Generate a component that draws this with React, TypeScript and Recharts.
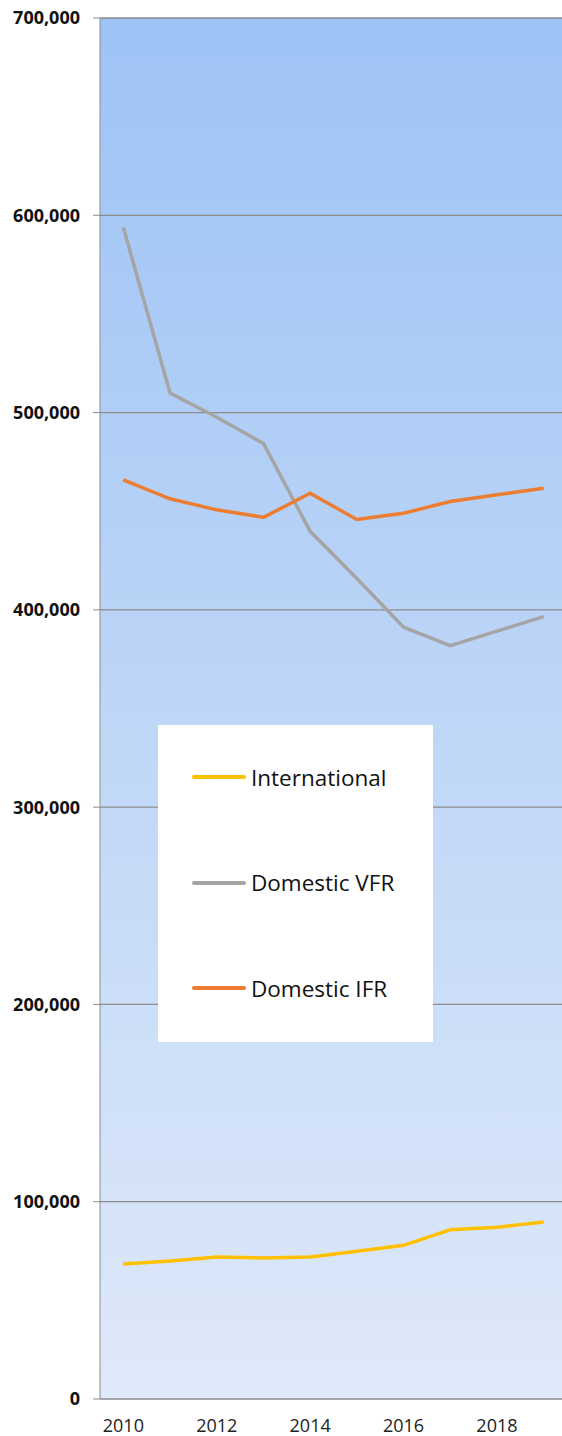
import { CartesianGrid, Legend, Line, LineChart, XAxis, YAxis } from "recharts"

const years = ["2010", "2011", "2012", "2013", "2014", "2015", "2016", "2017", "2018", "2019"]
const international = [68400, 69900, 72000, 71500, 72000, 74900, 77900, 85800, 87000, 89700]
const domesticVfr = [593800, 509900, 497600, 484300, 439800, 415900, 391200, 381900, 389200, 396600]
const domesticIfr = [465900, 456300, 450700, 446900, 459100, 445800, 449000, 454900, 458300, 461600]
const seriesNames = ["International", "Domestic VFR", "Domestic IFR"]
const seriesColors = ["#ffc000", "#a5a5a5", "#ed7d31"]
const yTicks = [0, 100000, 200000, 300000, 400000, 500000, 600000, 700000]
const bandTicks = [0, 1, 2, 3, 4, 5, 6, 7, 8, 9, 10]

const data = years.map((year, i) => ({
  year,
  international: international[i],
  vfr: domesticVfr[i],
  ifr: domesticIfr[i],
}))

const font = "'Open Sans', sans-serif"

function LegendBox() {
  return (
    <div style={{ width: 275, height: 317, background: "#fff", position: "relative", fontFamily: font }}>
      {seriesNames.map((name, i) => (
        <div
          key={name}
          style={{ position: "absolute", left: 34, top: 52 + i * 105.5 - 16, height: 32, display: "flex", alignItems: "center" }}
        >
          <div style={{ width: 54, height: 4, borderRadius: 2, background: seriesColors[i] }} />
          <span style={{ marginLeft: 5, fontSize: 22.5, color: "#111", whiteSpace: "nowrap" }}>{name}</span>
        </div>
      ))}
    </div>
  )
}

export default function App() {
  return (
    <div style={{ position: "absolute", left: 0, top: 0, width: 562, height: 1436, overflow: "hidden", background: "#fff" }}>
      <LineChart width={567} height={1436} data={data} margin={{ top: 18, right: 0, bottom: 0, left: 0 }}>
        <defs>
          <linearGradient id="plotBg" x1="0" y1="0" x2="0" y2="1">
            <stop offset="0%" stopColor="#9dc3f5" />
            <stop offset="100%" stopColor="#dfe9f9" />
          </linearGradient>
        </defs>
        <CartesianGrid vertical={false} stroke="#8c8c8c" strokeWidth={1.3} fill="url(#plotBg)" fillOpacity={1} />
        <XAxis
          xAxisId="bands"
          type="number"
          domain={[0, 10]}
          ticks={bandTicks}
          height={0}
          stroke="#8c8c8c"
          tickSize={6}
          tickFormatter={() => ""}
          allowDataOverflow
        />
        <XAxis
          dataKey="year"
          height={37}
          padding={{ left: 23.35, right: 23.35 }}
          axisLine={false}
          tickLine={false}
          tickSize={0}
          tickMargin={20}
          interval={1}
          tick={{ fontFamily: font, fontSize: 18, fill: "#222" }}
        />
        <YAxis
          width={100}
          domain={[0, 700000]}
          ticks={yTicks}
          stroke="#8c8c8c"
          tickSize={7}
          tickMargin={13}
          tickFormatter={(v: number) => v.toLocaleString("en-US")}
          tick={{ fontFamily: font, fontSize: 18, fontWeight: 700, fill: "#111" }}
        />
        <Legend
          layout="horizontal"
          verticalAlign="middle"
          align="center"
          content={<LegendBox />}
          wrapperStyle={{ position: "absolute", left: 158, top: 725, width: 275, height: 317 }}
        />
        <Line dataKey="international" name={seriesNames[0]} stroke={seriesColors[0]} strokeWidth={3.5} dot={false} isAnimationActive={false} />
        <Line dataKey="vfr" name={seriesNames[1]} stroke={seriesColors[1]} strokeWidth={3.5} dot={false} isAnimationActive={false} />
        <Line dataKey="ifr" name={seriesNames[2]} stroke={seriesColors[2]} strokeWidth={3.5} dot={false} isAnimationActive={false} />
      </LineChart>
    </div>
  )
}
